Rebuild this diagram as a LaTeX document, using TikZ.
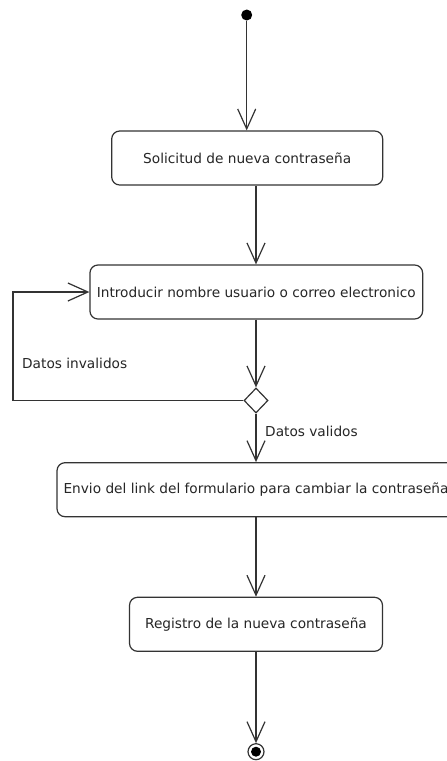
\documentclass[tikz,border=0pt]{standalone}
\usepackage{fontspec}
\setmainfont{DejaVu Sans}
\usetikzlibrary{arrows.meta,shapes.geometric}
\begin{document}
\begin{tikzpicture}[x=1pt,y=-1pt,
  act/.style={draw=black!80, line width=1.2pt, rounded corners=8pt, minimum height=54pt,
    inner sep=0pt, font=\fontsize{13.7}{16}\selectfont, text=black!85, fill=white},
  flow/.style={draw=black!80, line width=1.2pt,
    -{Straight Barb[length=20pt,width=18pt,line width=1.2pt]}},
  lbl/.style={font=\fontsize{13.7}{16}\selectfont, text=black!85, inner sep=0pt}]
\useasboundingbox (0,0) rectangle (447,761);
\clip (0,0) rectangle (447,761);
\fill[white] (0,0) rectangle (447,761);
\node[circle, fill=black, minimum size=11pt, inner sep=0pt] (start) at (246.7,15) {};
\node[act, minimum width=271pt] (b1) at (247.2,158) {Solicitud de nueva contraseña};
\node[act, minimum width=332.7pt] (b2) at (256.3,292) {Introducir nombre usuario o correo electronico};
\node[diamond, draw=black!80, line width=1.2pt, minimum width=24pt, minimum height=25pt,
  inner sep=0pt, fill=white] (d) at (256,400.5) {};
\node[act, minimum width=398pt] (b3) at (256,489.7) {Envio del link del formulario para cambiar la contraseña};
\node[act, minimum width=253pt] (b4) at (256,624.3) {Registro de la nueva contraseña};
\node[circle, draw=black!80, line width=1.2pt, minimum size=16pt, inner sep=0pt] (end) at (256,751.7) {};
\node[circle, fill=black, minimum size=10pt, inner sep=0pt] (endin) at (end) {};
\coordinate (lc) at (13,400.5);
\draw[flow] (start) -- (start |- b1.north);
\draw[flow] (b1.south -| d) -- (b2.north -| d);
\draw[flow] (b2.south -| d) -- (d.north);
\draw[flow] (d.west) -- (lc) |- (b2.west);
\draw[flow] (d.south) -- (b3.north -| d);
\draw[flow] (b3.south -| d) -- (b4.north -| d);
\draw[flow] (b4.south -| d) -- (end.north);
\node[lbl, anchor=base west] (li) at (22,368.5) {Datos invalidos};
\node[lbl, anchor=base west] (lv) at (265,436.5) {Datos validos};
\end{tikzpicture}
\end{document}
